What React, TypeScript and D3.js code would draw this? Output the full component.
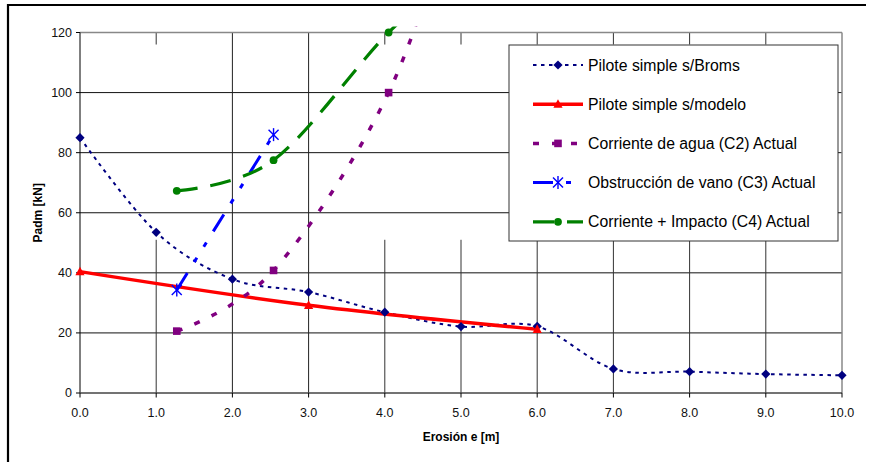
import * as d3 from "d3";

// axis ticks
const xTicks = [0, 1, 2, 3, 4, 5, 6, 7, 8, 9, 10];
const yTicks = [0, 20, 40, 60, 80, 100, 120];

// series values (x = erosion in m, y = Padm in kN)
const bromsX = [0, 1, 2, 3, 4, 5, 6, 7, 8, 9, 10];
const bromsY = [85, 53.5, 37.9, 33.6, 26.9, 22.1, 22.2, 8.0, 7.1, 6.3, 5.9];
const modeloX = [0, 3, 6];
const modeloY = [40.4, 29.2, 21.2];
const c2X = [1.27, 2.54, 4.05, 5.08];
const c2Y = [20.6, 40.8, 100, 175];
const c3X = [1.27, 2.54];
const c3Y = [34.3, 86];
const c4X = [1.27, 2.54, 4.05, 5.08];
const c4Y = [67.3, 77.5, 120, 142];

const labels = [
  "Pilote simple s/Broms",
  "Pilote simple s/modelo",
  "Corriente de agua (C2) Actual",
  "Obstrucción de vano (C3) Actual",
  "Corriente + Impacto (C4) Actual",
];

type Marker = "diamond" | "triangle" | "square" | "asterisk" | "circle";

const series = [
  { xs: bromsX, ys: bromsY, color: "#000080", width: 2, dash: "3.5 4.5", marker: "diamond" as Marker },
  { xs: modeloX, ys: modeloY, color: "#ff0000", width: 3.5, dash: "none", marker: "triangle" as Marker },
  { xs: c2X, ys: c2Y, color: "#800080", width: 3.5, dash: "6 13", marker: "square" as Marker },
  { xs: c3X, ys: c3Y, color: "#0000ff", width: 3, dash: "20 13 5 13 5 13", marker: "asterisk" as Marker },
  { xs: c4X, ys: c4Y, color: "#008000", width: 3.2, dash: "21 13", marker: "circle" as Marker },
];

const FONT = "'Liberation Sans', Arial, sans-serif";
const W = 871;
const H = 462;

function MarkerShape({ type, cx, cy, color }: { type: Marker; cx: number; cy: number; color: string }) {
  switch (type) {
    case "diamond":
      return <path d={`M${cx},${cy - 4.6}L${cx + 4.6},${cy}L${cx},${cy + 4.6}L${cx - 4.6},${cy}Z`} fill={color} />;
    case "triangle":
      return <path d={`M${cx},${cy - 5}L${cx + 4.6},${cy + 3.6}L${cx - 4.6},${cy + 3.6}Z`} fill={color} />;
    case "square":
      return <rect x={cx - 3.8} y={cy - 3.8} width={7.6} height={7.6} fill={color} />;
    case "circle":
      return <circle cx={cx} cy={cy} r={3.9} fill={color} />;
    case "asterisk":
      return (
        <g stroke={color} strokeWidth={1.4}>
          <line x1={cx - 5} y1={cy - 5} x2={cx + 5} y2={cy + 5} />
          <line x1={cx - 5} y1={cy + 5} x2={cx + 5} y2={cy - 5} />
          <line x1={cx} y1={cy - 6.5} x2={cx} y2={cy + 6.5} />
        </g>
      );
  }
  return null;
}

export default function App() {
  const x = d3.scaleLinear().domain([0, 10]).range([80, 842]);
  const y = d3.scaleLinear().domain([0, 120]).range([393, 32.5]);

  const line = d3
    .line<[number, number]>()
    .x((d) => x(d[0]))
    .y((d) => y(d[1]))
    .curve(d3.curveCardinal.tension(0));

  // some vertical gridlines are broken in the original picture
  const fullGridX = [2, 3];
  const gapTop = y(116);
  const gapBottom = y(51);

  const legendX = 509;
  const legendY = 45;
  const rowY = (i: number) => legendY + 20 + i * 39.2;

  return (
    <svg
      width={W}
      height={H}
      style={{ position: "absolute", left: 0, top: 0, background: "#fff" }}
      fontFamily={FONT}
    >
      <defs>
        <clipPath id="plot-clip">
          <rect x={x(0) - 5} y={y(120) - 6} width={x(10) - x(0) + 10} height={y(0) - y(120) + 12} />
        </clipPath>
      </defs>

      {/* outer frame */}
      <line x1={7} y1={5} x2={866} y2={5} stroke="#000" strokeWidth={2.2} />
      <line x1={8} y1={4} x2={8} y2={H} stroke="#000" strokeWidth={2.2} />

      {/* horizontal gridlines */}
      {yTicks.slice(1, -1).map((t) => (
        <line key={"h" + t} x1={x(0)} x2={x(10)} y1={y(t)} y2={y(t)} stroke="#111" strokeWidth={1} />
      ))}

      {/* vertical gridlines */}
      {xTicks.slice(1, -1).map((t) =>
        fullGridX.includes(t) ? (
          <line key={"v" + t} x1={x(t)} x2={x(t)} y1={y(120)} y2={y(0)} stroke="#222" strokeWidth={1} />
        ) : (
          <g key={"v" + t} stroke="#333" strokeWidth={1}>
            <line x1={x(t)} x2={x(t)} y1={y(120)} y2={gapTop} />
            <line x1={x(t)} x2={x(t)} y1={gapBottom} y2={y(0)} />
          </g>
        )
      )}

      {/* plot border */}
      <line x1={x(0)} x2={x(10)} y1={y(120)} y2={y(120)} stroke="#888" strokeWidth={1.5} />
      <line x1={x(10)} x2={x(10)} y1={y(120)} y2={y(0)} stroke="#888" strokeWidth={1.5} />

      {/* axes */}
      <line x1={x(0)} x2={x(0)} y1={y(120)} y2={y(0)} stroke="#000" strokeWidth={1} />
      <line x1={x(0)} x2={x(10)} y1={y(0)} y2={y(0)} stroke="#444" strokeWidth={1.6} />
      {yTicks.map((t) => (
        <g key={"yt" + t}>
          <line x1={x(0) - 4} x2={x(0)} y1={y(t)} y2={y(t)} stroke="#000" />
          <text x={72} y={y(t)} textAnchor="end" dominantBaseline="central" fontSize={12.5} fill="#111">
            {t}
          </text>
        </g>
      ))}
      {xTicks.map((t) => (
        <g key={"xt" + t}>
          <line x1={x(t)} x2={x(t)} y1={y(0)} y2={y(0) + 4.5} stroke="#000" />
          <text x={x(t)} y={413} textAnchor="middle" dominantBaseline="central" fontSize={12.5} fill="#111">
            {d3.format(".1f")(t)}
          </text>
        </g>
      ))}

      <text x={(x(0) + x(10)) / 2} y={437} textAnchor="middle" dominantBaseline="central" fontSize={12} fontWeight="bold">
        Erosión e [m]
      </text>
      <text
        transform={`translate(38,${(y(0) + y(120)) / 2}) rotate(-90)`}
        textAnchor="middle"
        dominantBaseline="central"
        fontSize={12}
        fontWeight="bold"
      >
        Padm [kN]
      </text>

      {/* series */}
      <g clipPath="url(#plot-clip)">
        {series.map((s, i) => (
          <path
            key={"s" + i}
            d={line(s.xs.map((v, j) => [v, s.ys[j]] as [number, number])) || ""}
            fill="none"
            stroke={s.color}
            strokeWidth={s.width}
            strokeDasharray={s.dash}
          />
        ))}
      </g>
      {series.map((s, i) =>
        s.xs.map((v, j) =>
          s.ys[j] <= 120 ? (
            <MarkerShape key={`m${i}-${j}`} type={s.marker} cx={x(v)} cy={y(s.ys[j])} color={s.color} />
          ) : null
        )
      )}

      {/* legend */}
      <rect x={legendX} y={legendY} width={329} height={196} fill="#fff" stroke="#333" strokeWidth={1} />
      {series.map((s, i) => (
        <g key={"lg" + i}>
          <line
            x1={533}
            x2={583}
            y1={rowY(i)}
            y2={rowY(i)}
            stroke={s.color}
            strokeWidth={s.width}
            strokeDasharray={s.dash}
          />
          <MarkerShape type={s.marker} cx={558} cy={rowY(i)} color={s.color} />
          <text x={588} y={rowY(i)} dominantBaseline="central" fontSize={15.8} fill="#000">
            {labels[i]}
          </text>
        </g>
      ))}
    </svg>
  );
}
